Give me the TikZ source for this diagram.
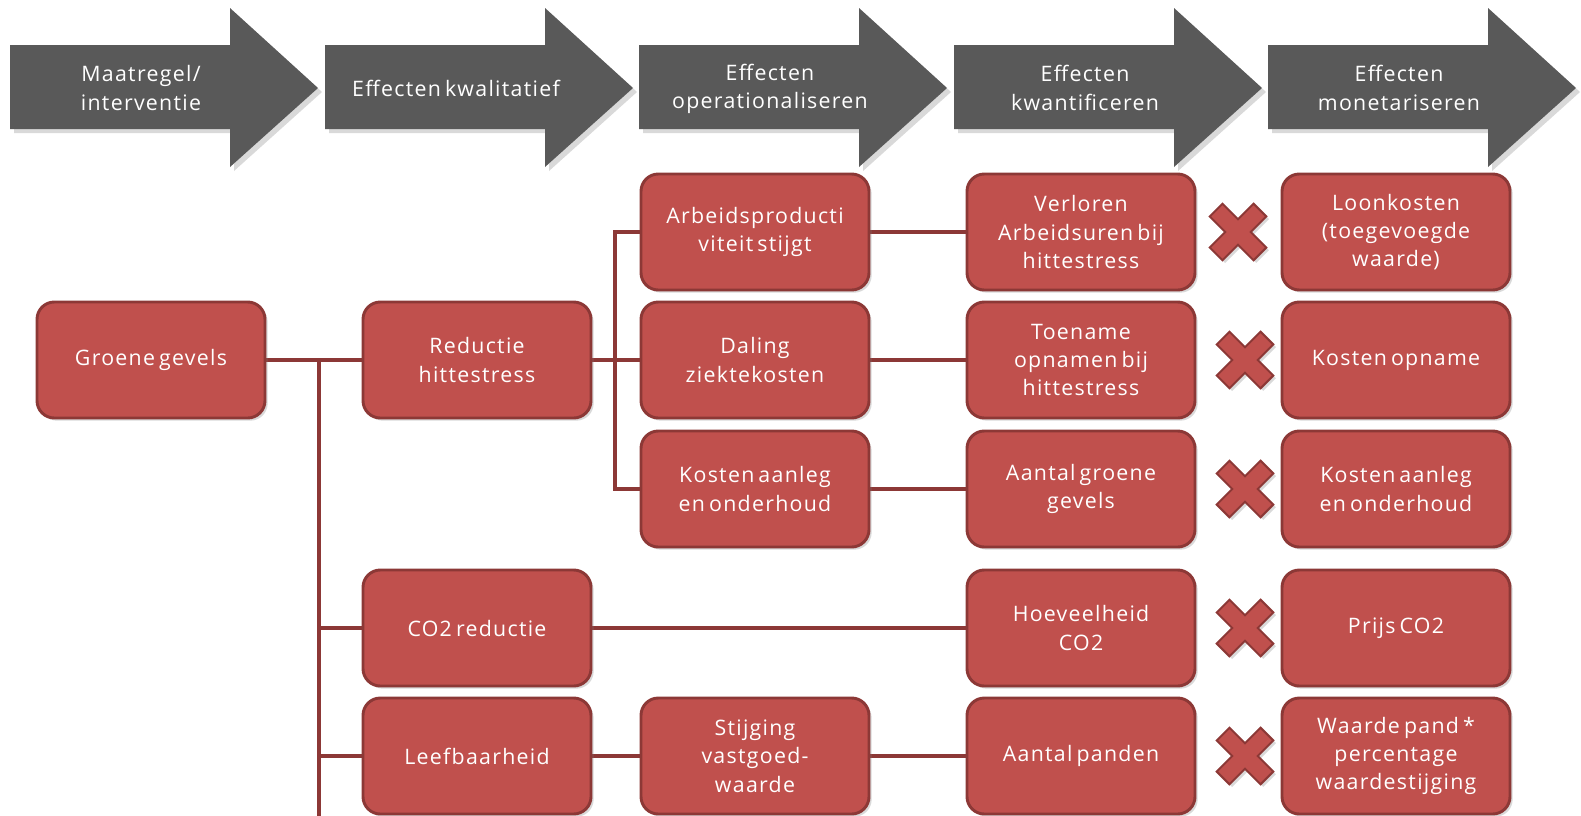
\documentclass[tikz,border=0pt]{standalone}
\usepackage{fontspec}
\setmainfont[WordSpace=0.6,LetterSpace=6]{Open Sans}
\usetikzlibrary{positioning,shadows,backgrounds}
\definecolor{rood}{HTML}{C0504D}
\definecolor{roodrand}{HTML}{8C3836}
\definecolor{grijs}{HTML}{595959}

\begin{document}
\begin{tikzpicture}[x=0.75pt,y=-0.75pt]
% size of each box
\def\bw{171pt}
\def\bh{87pt}
% node style definition
\tikzstyle{blok} = [
	draw=roodrand, fill=rood, line width=2.2pt, rounded corners=13pt,
	minimum width=\bw, minimum height=\bh, align=center, text=white,
	font=\fontsize{16}{21.3}\selectfont,
	drop shadow={opacity=0.3, shadow xshift=2pt, shadow yshift=-2pt} ];
\tikzstyle{kop} = [align=center, text=white, font=\fontsize{16}{21.3}\selectfont];
\tikzstyle{pijl} = [fill=grijs,
	drop shadow={opacity=0.3, shadow xshift=3pt, shadow yshift=-3pt}];
\tikzstyle{lijn} = [draw=roodrand, line width=2.4pt];
\tikzset{kruis/.pic={
	\filldraw[fill=rood, draw=roodrand, line width=1.5pt, rotate=45,
		drop shadow={opacity=0.3, shadow xshift=2pt, shadow yshift=-2pt}]
	(9,31) -- (9,9) -- (31,9) -- (31,-9) -- (9,-9) -- (9,-31) -- (-9,-31)
	-- (-9,-9) -- (-31,-9) -- (-31,9) -- (-9,9) -- (-9,31) -- cycle;}}

\useasboundingbox (0,0) rectangle (1581,815);

% header arrows
\fill[pijl] (10,45) -- (230,45) -- (230,8) -- (318,88) -- (230,167) -- (230,129) -- (10,129) -- cycle;
\node[kop] (stap1) at (141,88) {Maatregel/\\interventie};

\fill[pijl] (325,45) -- (545,45) -- (545,8) -- (633,88) -- (545,167) -- (545,129) -- (325,129) -- cycle;
\node[kop] (stap2) at (456,88) {Effecten kwalitatief};

\fill[pijl] (639,45) -- (859,45) -- (859,8) -- (947,88) -- (859,167) -- (859,129) -- (639,129) -- cycle;
\node[kop] (stap3) at (770,89) {Effecten\\operationaliseren};

\fill[pijl] (954,45) -- (1174,45) -- (1174,8) -- (1262,88) -- (1174,167) -- (1174,129) -- (954,129) -- cycle;
\node[kop] (stap4) at (1085,88) {Effecten\\kwantificeren};

\fill[pijl] (1268,45) -- (1488,45) -- (1488,8) -- (1576,88) -- (1488,167) -- (1488,129) -- (1268,129) -- cycle;
\node[kop] (stap5) at (1399,88) {Effecten\\monetariseren};

% maatregel
\node[blok] (gevels) at (151,360) {Groene gevels};

% effecten kwalitatief
\node[blok] (hitte) at (477,360) {Reductie\\hittestress};
\node[blok] (co2) at (477,628) {CO2 reductie};
\node[blok] (leef) at (477,756) {Leefbaarheid};

% effecten operationaliseren
\node[blok] (arbeid) at (755,232) {Arbeidsproducti\\viteit stijgt};
\node[blok] (daling) at (755,360) {Daling\\ziektekosten};
\node[blok] (aanleg) at (755,489) {Kosten aanleg\\en onderhoud};
\node[blok] (vastgoed) at (755,756) {Stijging\\vastgoed-\\waarde};

% effecten kwantificeren
\node[blok] (uren) at (1081,232) {Verloren\\Arbeidsuren bij\\hittestress};
\node[blok] (opnamen) at (1081,360) {Toename\\opnamen bij\\hittestress};
\node[blok] (aantalgevels) at (1081,489) {Aantal groene\\gevels};
\node[blok] (hoeveel) at (1081,628) {Hoeveelheid\\CO2};
\node[blok] (panden) at (1081,756) {Aantal panden};

% effecten monetariseren
\node[blok] (loon) at (1396,232) {Loonkosten\\(toegevoegde\\waarde)};
\node[blok] (opname) at (1396,360) {Kosten opname};
\node[blok] (onderhoud) at (1396,489) {Kosten aanleg\\en onderhoud};
\node[blok] (prijs) at (1396,628) {Prijs CO2};
\node[blok] (waarde) at (1396,756) {Waarde pand *\\percentage\\waardestijging};

% maal-tekens
\pic at (1238,232) {kruis};
\pic at (1245,360) {kruis};
\pic at (1245,489) {kruis};
\pic at (1245,628) {kruis};
\pic at (1245,756) {kruis};

% connectors
\coordinate (stam) at (319,360);
\coordinate (stameinde) at (319,820);
\coordinate (tak) at (615,360);
\begin{scope}[on background layer]
\draw[lijn] (gevels) -- (hitte);
\draw[lijn] (stam) -- (stameinde);
\draw[lijn] (stam) |- (co2.west);
\draw[lijn] (stam) |- (leef.west);
\draw[lijn] (hitte) -- (daling);
\draw[lijn] (tak) |- (arbeid.west);
\draw[lijn] (tak) |- (aanleg.west);
\draw[lijn] (arbeid) -- (uren);
\draw[lijn] (daling) -- (opnamen);
\draw[lijn] (aanleg) -- (aantalgevels);
\draw[lijn] (co2) -- (hoeveel);
\draw[lijn] (leef) -- (vastgoed);
\draw[lijn] (vastgoed) -- (panden);
\end{scope}
\end{tikzpicture}
\end{document}
